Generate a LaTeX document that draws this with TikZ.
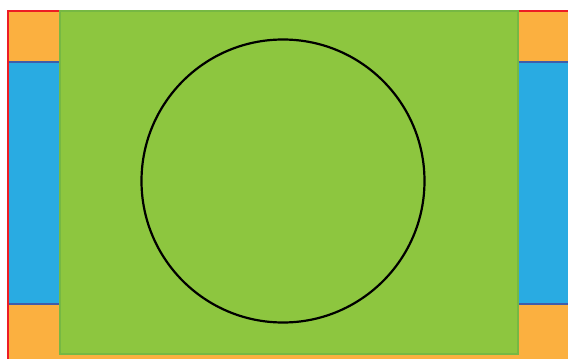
\documentclass[tikz,border=0pt]{standalone}
\usepackage{xcolor,tikz}
\definecolor{bandorange}{HTML}{FBB040}
\definecolor{bandblue}{HTML}{29ABE2}
\definecolor{bandgreen}{HTML}{8DC63F}
\definecolor{edgegreen}{HTML}{76B843}
\definecolor{edgered}{HTML}{ED1C24}
\definecolor{edgeblue}{HTML}{3F5DAA}
\begin{document}
\begin{tikzpicture}[x=1pt,y=-1pt]
\useasboundingbox (0,0) rectangle (568,359);
\clip (0,0) rectangle (568,359);
\draw[edgered,fill=bandorange,line width=2.5pt] (8,11) rectangle (580,370);
\draw[edgeblue,fill=bandblue,line width=2.5pt] (8,62) -- (580,62) -- (580,304) -- (8,304);
\draw[edgered,line width=2.5pt] (8,11)--(8,370);
\draw[edgegreen,fill=bandgreen,line width=2.5pt] (60,11) rectangle (518,354);
\draw[black,line width=2.2pt] (283,181) circle (141.5);
\end{tikzpicture}
\end{document}
